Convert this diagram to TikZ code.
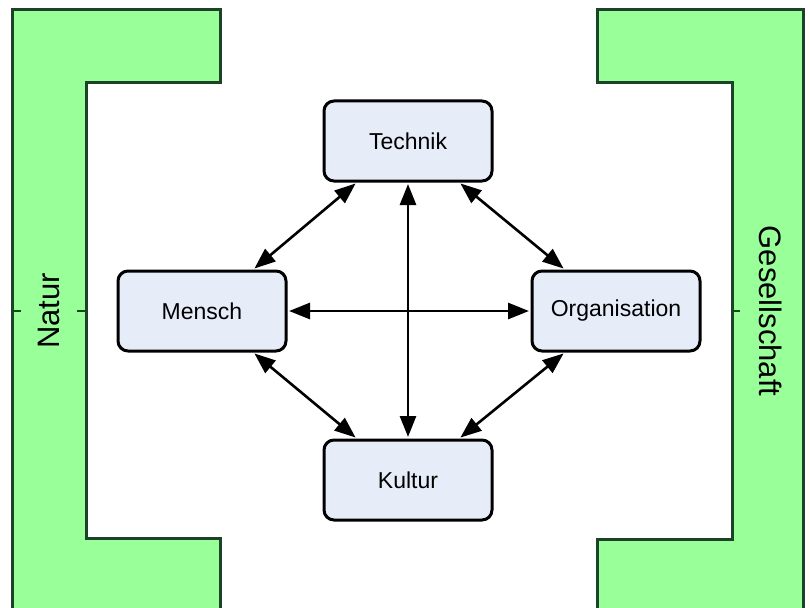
\documentclass[tikz,border=0pt]{standalone}
\usepackage{fontspec}
\setmainfont{Liberation Sans}
\usetikzlibrary{arrows.meta}
\definecolor{framegreen}{RGB}{153,255,153}
\definecolor{framedark}{RGB}{28,66,40}
\definecolor{boxfill}{RGB}{230,236,248}
\tikzset{
	frame/.style  = {draw=framedark, fill=framegreen, line width=3pt, line join=miter},
	pin/.style    = {draw=framedark, line width=2pt},
	topic/.style  = {shape=rectangle, rounded corners=10pt,
		draw, line width=3pt, fill=boxfill,
		minimum width=168pt, minimum height=80pt,
		font=\fontsize{23}{27}\selectfont},
	side/.style   = {font=\fontsize{31}{36}\selectfont},
	link/.style   = {line width=2.6pt, shorten <=1.5pt, shorten >=1.5pt,
		{Triangle[length=21pt,width=16pt]}-{Triangle[length=21pt,width=16pt]}}
}

\begin{document}
\begin{tikzpicture}[x=1pt, y=-1pt]
	\useasboundingbox (0,0) rectangle (810,607);
	\begin{scope}
		\clip (0,0) rectangle (810,607);
		% the two frames
		\draw [frame] (12,10) -- (220,10) -- (220,83) -- (86,83) -- (86,538)
			-- (220,538) -- (220,630) -- (12,630) -- cycle;
		\draw [frame] (597,10) -- (803,10) -- (803,630) -- (597,630) -- (597,539)
			-- (732,539) -- (732,83) -- (597,83) -- cycle;
	\end{scope}
	\draw [pin] (12,311) -- (21,311);
	\draw [pin] (77,311) -- (86,311);
	\draw [pin] (732,311) -- (740,311);
	\node [side, rotate=90] at (49,311) (natur) {Natur};
	\node [side, rotate=-90] at (771,311) (gesellschaft) {Gesellschaft};
	% the four boxes
	\node [topic] at (408,141) (technik) {Technik};
	\node [topic] at (202,311) (mensch) {Mensch};
	\node [topic] at (616,311) (organisation) {Organisation};
	\node [topic] at (408,480) (kultur) {Kultur};
	\draw [link] (mensch) -- (organisation);
	\draw [link] (technik) -- (kultur);
	\draw [link] (technik.-141) -- (mensch.39);
	\draw [link] (technik.-39) -- (organisation.141);
	\draw [link] (mensch.-39) -- (kultur.141);
	\draw [link] (organisation.-141) -- (kultur.39);
\end{tikzpicture}
\end{document}
